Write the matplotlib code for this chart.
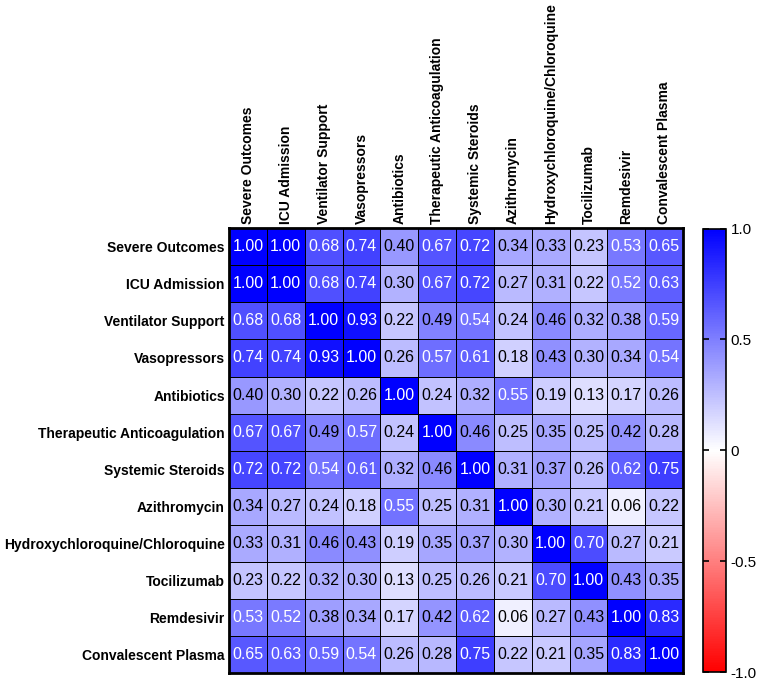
import numpy as np
import matplotlib.pyplot as plt
from matplotlib.colors import LinearSegmentedColormap

plt.rcParams['font.family'] = ['Liberation Sans', 'DejaVu Sans']

labels = ['Severe Outcomes', 'ICU Admission', 'Ventilator Support', 'Vasopressors',
          'Antibiotics', 'Therapeutic Anticoagulation', 'Systemic Steroids',
          'Azithromycin', 'Hydroxychloroquine/Chloroquine', 'Tocilizumab',
          'Remdesivir', 'Convalescent Plasma']

corr = np.array([
    [1.00, 1.00, 0.68, 0.74, 0.40, 0.67, 0.72, 0.34, 0.33, 0.23, 0.53, 0.65],
    [1.00, 1.00, 0.68, 0.74, 0.30, 0.67, 0.72, 0.27, 0.31, 0.22, 0.52, 0.63],
    [0.68, 0.68, 1.00, 0.93, 0.22, 0.49, 0.54, 0.24, 0.46, 0.32, 0.38, 0.59],
    [0.74, 0.74, 0.93, 1.00, 0.26, 0.57, 0.61, 0.18, 0.43, 0.30, 0.34, 0.54],
    [0.40, 0.30, 0.22, 0.26, 1.00, 0.24, 0.32, 0.55, 0.19, 0.13, 0.17, 0.26],
    [0.67, 0.67, 0.49, 0.57, 0.24, 1.00, 0.46, 0.25, 0.35, 0.25, 0.42, 0.28],
    [0.72, 0.72, 0.54, 0.61, 0.32, 0.46, 1.00, 0.31, 0.37, 0.26, 0.62, 0.75],
    [0.34, 0.27, 0.24, 0.18, 0.55, 0.25, 0.31, 1.00, 0.30, 0.21, 0.06, 0.22],
    [0.33, 0.31, 0.46, 0.43, 0.19, 0.35, 0.37, 0.30, 1.00, 0.70, 0.27, 0.21],
    [0.23, 0.22, 0.32, 0.30, 0.13, 0.25, 0.26, 0.21, 0.70, 1.00, 0.43, 0.35],
    [0.53, 0.52, 0.38, 0.34, 0.17, 0.42, 0.62, 0.06, 0.27, 0.43, 1.00, 0.83],
    [0.65, 0.63, 0.59, 0.54, 0.26, 0.28, 0.75, 0.22, 0.21, 0.35, 0.83, 1.00],
])

cbar_ticks = [-1.0, -0.5, 0, 0.5, 1.0]
cbar_labels = ['-1.0', '-0.5', '0', '0.5', '1.0']

cmap = LinearSegmentedColormap.from_list('rwb', ['#ff0000', '#ffffff', '#0000ff'])

fig = plt.figure(figsize=(7.62, 6.79), dpi=100)
ax = fig.add_axes([0.3005, 0.0088, 0.596, 0.655])
n = len(labels)
mesh = ax.pcolormesh(corr, cmap=cmap, vmin=-1, vmax=1, edgecolors='black', linewidth=0.4)
ax.set_xlim(0, n)
ax.set_ylim(n, 0)

for i in range(n):
    for j in range(n):
        v = corr[i, j]
        ax.text(j + 0.5, i + 0.5, f'{v:.2f}', ha='center', va='center',
                fontsize=11.5, color='white' if v >= 0.5 else 'black')

ax.set_xticks(np.arange(n) + 0.5)
ax.set_yticks(np.arange(n) + 0.5)
ax.set_xticklabels(labels, rotation=90, fontsize=10, fontweight='bold')
ax.set_yticklabels(labels, fontsize=10, fontweight='bold')
ax.xaxis.tick_top()
ax.tick_params(length=0, pad=3)
for s in ax.spines.values():
    s.set_linewidth(2)

cax = fig.add_axes([0.9226, 0.0103, 0.030, 0.653])
cb = fig.colorbar(mesh, cax=cax, ticks=cbar_ticks)
cb.ax.set_yticklabels(cbar_labels, fontsize=11)
cb.outline.set_linewidth(1.2)
cb.ax.tick_params(direction='in', length=4, width=1.2, left=True, right=True, labelright=True)

plt.savefig('out.png', dpi=100)
